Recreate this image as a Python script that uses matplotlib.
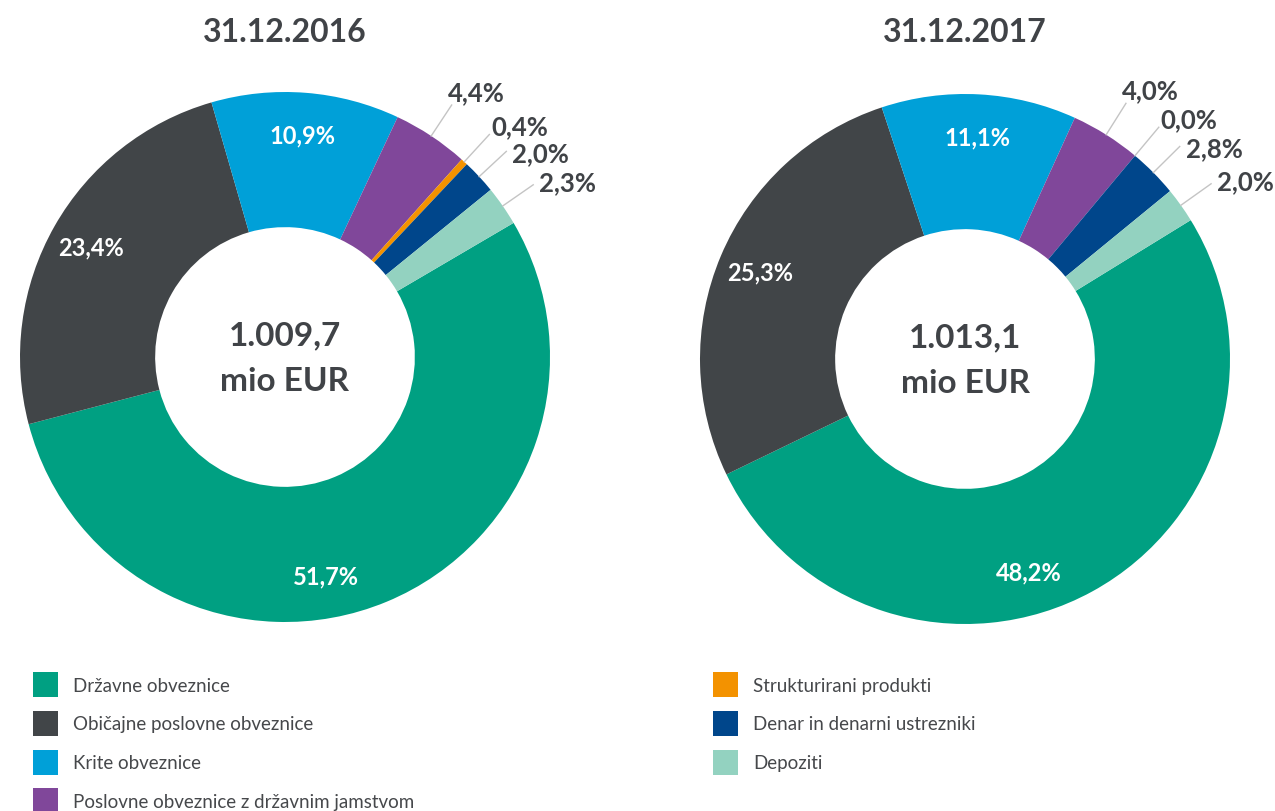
import numpy as np
import matplotlib
matplotlib.use("Agg")
import matplotlib.pyplot as plt

# ---------------- data ----------------
categories = ['Državne obveznice', 'Običajne poslovne obveznice', 'Krite obveznice',
              'Poslovne obveznice z državnim jamstvom', 'Strukturirani produkti',
              'Denar in denarni ustrezniki', 'Depoziti']
values_2016 = [51.7, 23.4, 10.9, 4.4, 0.4, 2.0, 2.3]
values_2017 = [48.2, 25.3, 11.1, 4.0, 0.0, 2.8, 2.0]
titles = ['31.12.2016', '31.12.2017']
totals = ['1.009,7', '1.013,1']
unit = 'mio EUR'

# ---------------- style ----------------
colors = ['#00A082', '#414548', '#00A0D8', '#80479A', '#F39200', '#00468B', '#93D2C0']
dark = '#404347'
FONT = 'Lato'
plt.rcParams['font.family'] = [FONT, 'DejaVu Sans']

W, H = 1275, 812
fig = plt.figure(figsize=(W / 100, H / 100), dpi=100)
fig.patch.set_facecolor('white')

R = 265
centers = [(285, 358), (965, 360)]
start_angles = [30.4, 31.6]
inside = {0, 1, 2}            # labels drawn inside the ring
inner_shift = {0: -12}        # angular nudge (deg) for inner labels
slot_offsets = [(-4, 13), (2, 8), (6, -2), (6, 3)]  # pixel offsets for outer labels

def fmt(v):
    return f'{v:.1f}'.replace('.', ',') + '%'

all_wedges = []
for k, (vals, (cx, cy), sa) in enumerate(zip([values_2016, values_2017], centers, start_angles)):
    ax = fig.add_axes([(cx - R) / W, 1 - (cy + R) / H, 2 * R / W, 2 * R / H])
    wedges, _ = ax.pie(vals, colors=colors, startangle=sa, counterclock=False,
                       radius=1.0, wedgeprops=dict(width=0.51, linewidth=0))
    all_wedges.append(wedges)
    ax.set_xlim(-1, 1)
    ax.set_ylim(-1, 1)
    ax.set_aspect('equal')
    ax.axis('off')

    slot = 0
    for i, (w, v) in enumerate(zip(wedges, vals)):
        mid = np.deg2rad((w.theta1 + w.theta2) / 2)
        if i in inside:
            a = mid + np.deg2rad(inner_shift.get(i, 0))
            r = 0.84
            ax.text(r * np.cos(a), r * np.sin(a), fmt(v), ha='center', va='center',
                    color='white', fontsize=17, fontweight='bold')
        else:
            r0, r1 = 1.0, 1.14
            x0, y0 = r0 * np.cos(mid), r0 * np.sin(mid)
            x1, y1 = r1 * np.cos(mid), r1 * np.sin(mid)
            ax.plot([x0, x1], [y0, y1], color='#C4C4C4', lw=1.0, clip_on=False)
            dx, dy = slot_offsets[slot]
            ax.annotate(fmt(v), xy=(x1, y1), xytext=(dx, dy), textcoords='offset pixels',
                        ha='left', va='center', color=dark, fontsize=18.5,
                        fontweight='bold', annotation_clip=False)
            slot += 1

    ax.text(0, 0.085, totals[k], ha='center', va='center', color=dark,
            fontsize=24, fontweight='bold')
    ax.text(0, -0.09, unit, ha='center', va='center', color=dark,
            fontsize=24, fontweight='bold')
    fig.text(cx / W, 1 - 32 / H, titles[k], ha='center', va='center', color=dark,
             fontsize=23, fontweight='bold')

# ---------------- legends ----------------
leg_kw = dict(frameon=False, loc='upper left', handlelength=1.33,
              handleheight=1.67, handletextpad=0.8, labelspacing=0.74,
              borderpad=0, borderaxespad=0, labelcolor='#46484b',
              prop=dict(family=FONT, size=13.5, weight='normal'))
w16 = all_wedges[0]
fig.legend(handles=w16[:4], labels=categories[:4],
           bbox_to_anchor=(33 / W, 1 - 673 / H), **leg_kw)
fig.legend(handles=w16[4:], labels=categories[4:],
           bbox_to_anchor=(713 / W, 1 - 673 / H), **leg_kw)

fig.savefig('out.png', dpi=100, facecolor='white')
